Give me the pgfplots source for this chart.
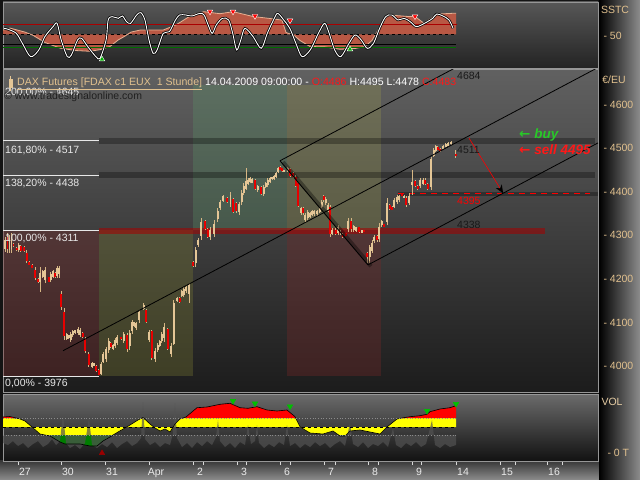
\documentclass[border=0pt]{standalone}
\usepackage{fontspec}
\setmainfont{Liberation Sans}
\newfontfamily\dv{DejaVu Sans}
\usepackage{pgfplots}
\pgfplotsset{compat=1.18}
\usepackage{pgfplotstable}
\usetikzlibrary{arrows.meta}
\definecolor{tanc}{RGB}{228,198,150}
\definecolor{wick}{RGB}{214,182,132}
\definecolor{candred}{RGB}{232,0,0}
\definecolor{txttan}{RGB}{224,192,142}
\definecolor{fibw}{RGB}{232,232,232}
\definecolor{buyg}{RGB}{40,200,40}
\definecolor{sellr}{RGB}{255,24,24}
\definecolor{framec}{RGB}{150,150,150}
\definecolor{areared}{RGB}{184,88,68}
\definecolor{areaedge}{RGB}{230,176,146}
\definecolor{volyel}{RGB}{255,255,0}
\definecolor{volred}{RGB}{255,0,0}
\definecolor{volgrn}{RGB}{0,125,0}
\definecolor{volgray}{RGB}{82,82,82}
\definecolor{bandred}{RGB}{120,40,40}
\definecolor{bandolive}{RGB}{120,120,50}
\definecolor{bandgreen}{RGB}{90,150,105}
\definecolor{bandyel}{RGB}{140,140,80}
\newcommand{\lbl}{\fontsize{10.5bp}{12bp}\selectfont}
\pgfplotstableread{
x o h l c d
5 4269 4297 4262 4290 0
7.5 4296 4305 4259 4268 1
9.5 4267 4301 4259 4293 0
11.5 4268 4305 4259 4296 0
13.5 4280 4282 4273 4275 1
16.7 4271 4272 4265 4266 1
18.7 4266 4282 4262 4278 0
20.7 4275 4278 4262 4265 1
24 4272 4275 4262 4265 1
26.7 4260 4266 4236 4242 1
29.3 4239 4240 4231 4232 1
32 4232 4233 4224 4225 1
35.3 4221 4227 4197 4203 1
38 4200 4202 4190 4192 1
40 4193 4227 4170 4213 0
42.7 4205 4220 4202 4217 0
45.3 4197 4227 4190 4220 0
48.7 4204 4205 4192 4193 1
50.7 4197 4216 4193 4212 0
53.3 4205 4220 4202 4217 0
55.3 4214 4216 4202 4204 1
57.3 4207 4229 4202 4224 0
59.3 4210 4229 4202 4226 0
61 4165 4172 4129 4136 1
64 4125 4133 4060 4068 1
66.7 4063 4076 4060 4073 0
68.7 4064 4071 4062 4071 0
70.7 4060 4078 4055 4073 0
72.7 4070 4083 4067 4080 0
75.3 4076 4083 4074 4083 0
78 4075 4090 4071 4086 0
80 4071 4087 4067 4083 0
82.7 4076 4078 4064 4066 1
85.3 4062 4067 4030 4035 1
88.7 4028 4032 3998 4003 1
92 3998 4009 3995 4006 0
94 4000 4007 3999 4007 0
96 4000 4002 3986 3989 1
98.7 3991 3992 3979 3980 1
101.3 3982 4009 3979 4005 0
103.3 4010 4032 4007 4028 0
106 4015 4044 4009 4038 0
108.7 4037 4064 4030 4058 0
110.7 4053 4055 4041 4043 1
113.3 4040 4051 4037 4048 0
115.3 4045 4064 4041 4060 0
117.3 4052 4071 4048 4066 0
121 4066 4067 4060 4061 1
123.7 4057 4079 4052 4074 0
127 4070 4076 4032 4038 1
129.7 4045 4083 4037 4075 0
132.3 4080 4106 4074 4100 0
134.3 4092 4102 4090 4100 0
136.3 4087 4102 4083 4098 0
139 4105 4129 4099 4123 0
143.7 4131 4145 4129 4141 0
146.3 4129 4131 4099 4101 1
149 4060 4083 4055 4078 0
151.7 4080 4083 4014 4018 1
155 4015 4041 4009 4035 0
157.7 4036 4053 4032 4049 0
159.7 4047 4060 4044 4057 0
161.7 4058 4078 4053 4073 0
164.3 4064 4099 4055 4090 0
167.7 4085 4087 4037 4040 1
171 4027 4053 4021 4047 0
173.7 4050 4151 4048 4145 0
177 4149 4158 4147 4156 0
179.7 4157 4158 4145 4147 1
181.7 4161 4174 4158 4171 0
183.7 4162 4181 4158 4176 0
186.3 4172 4186 4168 4182 0
189 4165 4190 4145 4185 0
193 4239 4240 4228 4229 1
195.7 4236 4274 4228 4266 0
198.3 4277 4294 4273 4290 0
201 4299 4340 4289 4330 0
205 4333 4335 4312 4314 1
207.7 4315 4317 4294 4296 1
210.3 4295 4319 4289 4313 0
214.3 4304 4335 4296 4327 0
217.7 4337 4363 4330 4356 0
220.3 4362 4381 4358 4377 0
223 4379 4392 4376 4389 0
227 4386 4388 4374 4376 1
230.5 4372 4400 4366 4393 0
233.3 4384 4386 4351 4353 1
236 4375 4377 4352 4355 1
239 4353 4377 4347 4371 0
241.7 4377 4404 4370 4397 0
243.7 4397 4420 4392 4414 0
246.3 4406 4454 4404 4425 0
248.3 4418 4431 4415 4428 0
250.3 4422 4434 4419 4431 0
252.3 4421 4431 4419 4429 0
255 4427 4429 4404 4406 1
257.7 4403 4415 4400 4412 0
261 4411 4413 4392 4394 1
263.7 4394 4415 4389 4410 0
265.7 4411 4423 4408 4420 0
267.7 4415 4431 4411 4427 0
270.3 4422 4434 4419 4431 0
272.3 4428 4434 4427 4434 0
274.3 4429 4438 4427 4436 0
276.3 4434 4446 4431 4443 0
278.3 4445 4457 4442 4454 0
280.3 4457 4458 4450 4450 1
282.3 4454 4455 4446 4447 1
284.3 4446 4450 4445 4450 0
287.7 4448 4457 4446 4455 0
290 4451 4454 4434 4437 1
293 4443 4446 4431 4433 1
295.7 4434 4438 4411 4414 1
298.3 4420 4423 4366 4368 1
301 4350 4366 4347 4362 0
303 4362 4366 4347 4350 1
305 4335 4351 4331 4347 0
307.7 4339 4358 4335 4354 0
310.3 4343 4354 4340 4351 0
312.3 4347 4358 4345 4355 0
314.3 4348 4358 4345 4355 0
317 4348 4359 4345 4356 0
319.7 4354 4366 4351 4363 0
321.7 4366 4381 4362 4377 0
323.7 4390 4392 4377 4380 1
325.7 4374 4388 4370 4384 0
328.3 4358 4373 4354 4369 0
330.3 4365 4370 4297 4302 1
332.3 4304 4316 4301 4313 0
335.7 4313 4316 4301 4304 1
338.3 4305 4324 4301 4320 0
340.5 4303 4312 4301 4310 0
342.5 4303 4305 4293 4295 1
345.7 4305 4306 4298 4298 1
348.3 4314 4339 4308 4333 0
351 4333 4339 4308 4314 1
353.7 4311 4324 4308 4321 0
356.3 4310 4320 4308 4318 0
359 4318 4320 4305 4308 1
361.7 4306 4312 4305 4311 0
364.3 4312 4313 4308 4308 1
367 4259 4262 4236 4249 1
369.7 4250 4278 4236 4272 0
372.3 4265 4289 4259 4283 0
374.3 4286 4301 4282 4297 0
377 4298 4301 4285 4288 1
379 4292 4328 4285 4320 0
381.7 4323 4335 4320 4332 0
384.3 4326 4327 4320 4320 1
387 4330 4385 4324 4375 0
389.7 4370 4372 4358 4360 1
392.3 4366 4367 4358 4358 1
394.3 4366 4385 4362 4380 0
397 4376 4392 4372 4388 0
399 4380 4392 4377 4389 0
401.7 4396 4397 4389 4389 1
404.3 4386 4392 4385 4391 0
406.3 4386 4389 4366 4369 1
409 4375 4396 4370 4391 0
412.3 4415 4450 4392 4423 0
415 4425 4427 4411 4413 1
417.7 4413 4415 4404 4406 1
420.3 4412 4431 4408 4427 0
423 4418 4431 4415 4428 0
425 4428 4431 4415 4418 1
427.7 4417 4419 4404 4406 1
431 4410 4480 4404 4474 0
433.7 4483 4500 4480 4496 0
435.7 4494 4507 4492 4504 0
437.7 4503 4504 4496 4496 1
440.3 4499 4500 4492 4494 1
443 4497 4507 4496 4505 0
445.7 4503 4511 4502 4509 0
448.3 4505 4513 4503 4511 0
451 4509 4517 4507 4515 0
455.7 4486 4495 4478 4483 1
}\candles
\begin{document}
\begin{tikzpicture}
\fill[black!92] (0,0) rectangle (640bp,480bp);
\shade[top color=black!78, bottom color=black!45] (0,0) rectangle (600bp,19bp);
\shade[left color=black, right color=black!45] (599bp,0) rectangle (640bp,480bp);

% ---------------- main price panel
\begin{axis}[
  at={(3bp,88bp)}, anchor=south west, scale only axis,
  width=595bp, height=323bp,
  xmin=3, xmax=598, ymin=3940.3, ymax=4681.6,
  axis background/.style={shade, top color=black!62, bottom color=black!89},
  axis line style={draw=framec, line width=0.6bp},
  xtick=\empty,
  ytick={4000,4100,4200,4300,4400,4500,4600},
  yticklabels={- 4000,- 4100,- 4200,- 4300,- 4400,- 4500,- 4600},
  ytick pos=right, yticklabel pos=right, major tick length=0pt,
  yticklabel style={anchor=west, xshift=2bp, text=txttan, font=\lbl},
]
% time zones
\addplot[fill=bandred, fill opacity=0.35, draw=none] coordinates {(3,3976) (99,3976) (99,4311) (3,4311)};
\addplot[fill=bandolive, fill opacity=0.35, draw=none] coordinates {(99,3976) (193,3976) (193,4311) (99,4311)};
\addplot[fill=bandgreen, fill opacity=0.3, draw=none] coordinates {(193,4311) (287,4311) (287,4645) (193,4645)};
\addplot[fill=bandyel, fill opacity=0.38, draw=none] coordinates {(287,4311) (381,4311) (381,4645) (287,4645)};
\addplot[fill=bandred, fill opacity=0.35, draw=none] coordinates {(287,3976) (381,3976) (381,4311) (287,4311)};
% horizontal bands
\addplot[fill=black, fill opacity=0.3, draw=none] coordinates {(99,4510) (595,4510) (595,4524) (99,4524)};
\addplot[fill=black, fill opacity=0.3, draw=none] coordinates {(99,4431) (595,4431) (595,4445) (99,4445)};
\addplot[fill=red!65!black, fill opacity=0.55, draw=none] coordinates {(99,4304) (545,4304) (545,4317) (99,4317)};
\addplot[fill=black, fill opacity=0.3, draw=none] coordinates {(398,4390) (598,4390) (598,4399) (398,4399)};
\addplot[red, dash pattern=on 6bp off 5bp, line width=1.2bp] coordinates {(398,4395) (590,4395)};
% fibonacci lines
\addplot[fibw, line width=0.9bp] coordinates {(3,4517) (99,4517)};
\addplot[fibw, line width=0.9bp] coordinates {(3,4438) (99,4438)};
\addplot[fibw, line width=0.9bp] coordinates {(3,4311) (99,4311)};
\addplot[fibw, line width=0.9bp] coordinates {(3,3976) (99,3976)};
% candles
\addplot[draw=none, mark=none, error bars/.cd, y dir=both, y explicit, error mark=none,
  error bar style={draw=wick, line width=0.7bp, solid}]
  table[x=x, y expr={(\thisrow{h}+\thisrow{l})/2}, y error expr={(\thisrow{h}-\thisrow{l})/2}] {\candles};
\addplot[draw=none, mark=none, restrict expr to domain={\thisrow{d}}{-0.5:0.5},
  error bars/.cd, y dir=both, y explicit, error mark=none,
  error bar style={draw=tanc, line width=1.9bp, solid}]
  table[x=x, y expr={(\thisrow{o}+\thisrow{c})/2}, y error expr={abs(\thisrow{c}-\thisrow{o})/2}] {\candles};
\addplot[draw=none, mark=none, restrict expr to domain={\thisrow{d}}{0.5:1.5},
  error bars/.cd, y dir=both, y explicit, error mark=none,
  error bar style={draw=candred, line width=1.9bp, solid}]
  table[x=x, y expr={(\thisrow{o}+\thisrow{c})/2}, y error expr={abs(\thisrow{c}-\thisrow{o})/2}] {\candles};
% channel lines
\addplot[black, opacity=0.35, line width=4bp] coordinates {(283,4468) (371,4229)};
\addplot[black, line width=0.8bp] coordinates {(280,4471) (598,4858)};
\addplot[black, line width=0.8bp] coordinates {(63,4035) (598,4685)};
\addplot[black, line width=0.8bp] coordinates {(368,4232) (598,4512)};
\addplot[black, line width=0.8bp] coordinates {(280,4471) (368,4232)};
\addplot[red, line width=0.6bp, -{Stealth[length=8bp,width=7bp,black]}] coordinates {(469,4523) (503,4397)};
% labels
\node[anchor=west, inner sep=0, text=black!90, font=\lbl] at (457,4665) {4684};
\node[anchor=west, inner sep=0, text=black!90, font=\lbl] at (457,4495) {4511};
\node[anchor=west, inner sep=0, text=red, font=\lbl] at (457,4380) {4395};
\node[anchor=west, inner sep=0, text=black!90, font=\lbl] at (457,4324) {4338};
\node[anchor=west, inner sep=0, text=buyg, font=\fontsize{13.5bp}{15bp}\selectfont\bfseries\itshape] at (519,4530) {{\dv ←} buy};
\node[anchor=west, inner sep=0, text=sellr, font=\fontsize{13.5bp}{15bp}\selectfont\bfseries\itshape] at (519,4496) {{\dv ←} sell 4495};
\node[anchor=west, inner sep=0, text=fibw, font=\lbl] at (5,4628) {200,00\% - 4645};
\node[anchor=west, inner sep=0, text=fibw, font=\lbl] at (5,4495) {161,80\% - 4517};
\node[anchor=west, inner sep=0, text=fibw, font=\lbl] at (5,4418) {138,20\% - 4438};
\node[anchor=west, inner sep=0, text=fibw, font=\lbl] at (5,4292) {100,00\% - 4311};
\node[anchor=west, inner sep=0, text=fibw, font=\lbl] at (5,3959) {0,00\% - 3976};
\node[anchor=west, inner sep=0, text=black!88, font=\lbl] at (4,4617) {© www.tradesignalonline.com};
\end{axis}

% ---------------- SSTC panel
\begin{axis}[
  at={(3bp,412bp)}, anchor=south west, scale only axis,
  width=595bp, height=66bp,
  xmin=3, xmax=598, ymin=-33.75, ymax=131.25,
  axis background/.style={shade, top color=black!66, bottom color=black!86},
  axis line style={draw=framec, line width=0.6bp},
  xtick=\empty, ytick={50}, yticklabels={- 50},
  ytick pos=right, yticklabel pos=right, major tick length=0pt,
  yticklabel style={anchor=west, xshift=2bp, yshift=-1.5bp, text=txttan, font=\lbl},
]
\addplot[fill=areared, draw=none] coordinates {(3,61) (10,66) (25,56) (33,48) (45,30) (60,16) (75,10) (90,8) (100,12) (110,20) (118,36) (125,46) (131,56) (140,61) (163,61) (176,74) (192,99) (204,107) (220,102) (233,107) (253,95) (270,90) (282,86) (286,55) (294,48) (300,35) (310,20) (325,19) (340,13) (355,15) (365,20) (372,35) (380,70) (388,99) (408,95) (415,95) (424,78) (437,101) (453,103) (456,103) (456,50) (3,50)};
\addplot[areaedge, line width=0.8bp] coordinates {(3,61) (10,66) (25,56) (33,48) (45,30) (60,16) (75,10) (90,8) (100,12) (110,20) (118,36) (125,46) (131,56) (140,61) (163,61) (176,74) (192,99) (204,107) (220,102) (233,107) (253,95) (270,90) (282,86) (286,55) (294,48) (300,35) (310,20) (325,19) (340,13) (355,15) (365,20) (372,35) (380,70) (388,99) (408,95) (415,95) (424,78) (437,101) (453,103) (456,103)};
\addplot[draw={rgb,255:red,170;green,0;blue,0}, line width=0.9bp] coordinates {(3,75.4) (457,75.4)};
\addplot[black, dashed, line width=0.8bp] coordinates {(3,50) (457,50)};
\addplot[black, line width=0.8bp] coordinates {(3,26.25) (456,26.25)};
\addplot[draw={rgb,255:red,0;green,110;blue,0}, line width=0.8bp] coordinates {(3,18.75) (456,18.75)};
\addplot[black, line width=2.4bp, smooth, tension=0.5] coordinates {(4.1,65.4) (8.2,62.9) (16.3,52.9) (22.4,27.9) (30.6,-5.4) (38.8,11.3) (44.9,44.6) (53.1,69.6) (57.1,77.9) (61.2,36.3) (67.3,-5.4) (71.4,-1.2) (77.6,36.3) (81.6,40.4) (87.8,19.6) (95.9,-5.4) (100,-9.6) (106.1,36.3) (108.2,86.3) (112.2,94.6) (118.4,90.4) (122.4,96.3) (126.5,82.1) (130.6,77.9) (136.7,98.8) (140.8,104.6) (144.9,86.3) (149,36.3) (153.1,2.9) (157.1,11.3) (163.3,52.9) (169.4,57.1) (175.5,86.3) (179.6,98.8) (185.7,98.8) (191.8,96.3) (200,102.9) (204.1,98.8) (208.2,73.8) (212.2,52.9) (216.3,73.8) (222.4,90.4) (228.6,86.3) (232.7,52.9) (236.7,11.3) (240.8,36.3) (244.9,65.4) (253.1,44.6) (261.2,15.4) (267.3,52.9) (273.5,86.3) (277.6,102.9) (283.7,86.3) (289.8,65.4) (295.9,27.9) (302,-5.4) (310.2,11.3) (318.4,52.9) (324.5,77.9) (328.6,57.1) (334.7,11.3) (340.8,-5.4) (349,27.9) (355.1,48.75) (361.2,36.3) (367.3,15.4) (373.5,27.9) (379.6,65.4) (385.7,94.6) (391.8,98.8) (398,86.3) (404.1,90.4) (410.2,82.1) (416.3,69.6) (424.5,77.9) (432.7,90.4) (436.7,101.25) (442.9,96.3) (449,86.3) (453.1,65.4)};
\addplot[white, line width=0.9bp, smooth, tension=0.5] coordinates {(4.1,65.4) (8.2,62.9) (16.3,52.9) (22.4,27.9) (30.6,-5.4) (38.8,11.3) (44.9,44.6) (53.1,69.6) (57.1,77.9) (61.2,36.3) (67.3,-5.4) (71.4,-1.2) (77.6,36.3) (81.6,40.4) (87.8,19.6) (95.9,-5.4) (100,-9.6) (106.1,36.3) (108.2,86.3) (112.2,94.6) (118.4,90.4) (122.4,96.3) (126.5,82.1) (130.6,77.9) (136.7,98.8) (140.8,104.6) (144.9,86.3) (149,36.3) (153.1,2.9) (157.1,11.3) (163.3,52.9) (169.4,57.1) (175.5,86.3) (179.6,98.8) (185.7,98.8) (191.8,96.3) (200,102.9) (204.1,98.8) (208.2,73.8) (212.2,52.9) (216.3,73.8) (222.4,90.4) (228.6,86.3) (232.7,52.9) (236.7,11.3) (240.8,36.3) (244.9,65.4) (253.1,44.6) (261.2,15.4) (267.3,52.9) (273.5,86.3) (277.6,102.9) (283.7,86.3) (289.8,65.4) (295.9,27.9) (302,-5.4) (310.2,11.3) (318.4,52.9) (324.5,77.9) (328.6,57.1) (334.7,11.3) (340.8,-5.4) (349,27.9) (355.1,48.75) (361.2,36.3) (367.3,15.4) (373.5,27.9) (379.6,65.4) (385.7,94.6) (391.8,98.8) (398,86.3) (404.1,90.4) (410.2,82.1) (416.3,69.6) (424.5,77.9) (432.7,90.4) (436.7,101.25) (442.9,96.3) (449,86.3) (453.1,65.4)};
\addplot[only marks, mark=triangle*, mark size=3.2bp, mark options={rotate=180, fill=red, draw=white, line width=0.4bp}] coordinates {(210,107) (233,107) (255,96) (290,85) (415,95)};
\addplot[only marks, mark=triangle*, mark size=3.2bp, mark options={fill=green!70!black, draw=white, line width=0.4bp}] coordinates {(102,-12) (350,13)};
\end{axis}

% ---------------- VOL panel
\begin{axis}[
  at={(3bp,19bp)}, anchor=south west, scale only axis,
  width=595bp, height=67bp,
  xmin=3, xmax=598, ymin=-8, ymax=59,
  axis background/.style={shade, top color=black!58, bottom color=black!93},
  axis line style={draw=framec, line width=0.6bp},
  ytick={0}, yticklabels={- 0 T},
  ytick pos=right, yticklabel pos=right,
  yticklabel style={anchor=west, xshift=2bp, text=txttan, font=\lbl},
  ytick style={draw=none},
  xtick={18,61,105,149,193,237,280,324,368,412,456,500,547},
  xticklabels={27,30,31,Apr,2,3,6,7,8,9,14,15,16},
  minor xtick={203,246.5,290,335,378,421.6,515,562},
  xtick pos=bottom, tick align=outside,
  major tick length=4bp, minor tick length=4bp,
  xtick style={draw=black!15, line width=0.6bp},
  minor tick style={draw=black!15, line width=0.6bp},
  xticklabel style={text=black!8, xshift=7bp, font=\lbl},
]
\addplot[fill=volyel, draw=none] coordinates {(3,35) (10,35) (20,34) (25,32) (32,26) (40,19) (45,18) (50,18) (60,18) (65,18) (80,18) (90,18) (97,18) (103,18) (110,18) (113,18) (118,21) (125,25) (130,28) (138,33) (143,35) (150,29) (155,25) (160,22) (165,24) (170,21) (175,29) (180,34) (184.8,35) (197,35) (230,35) (295.6,35) (300,26.3) (305,23) (310,20) (323,19) (333,22) (338.6,18) (346,18) (350,22) (360,23) (370,21) (380,19) (387,26) (397,34) (402.3,35) (456,35) (456,26) (3,26)};
\addplot[fill=volred, draw=none] coordinates {(3,35) (3,36) (10,36.5) (16,35)};
\addplot[fill=volred, draw=none] coordinates {(184.8,35) (186,36) (197,45.3) (207,46) (220,48.7) (230,49.7) (240,45.3) (248,44.7) (257,46.3) (267,43) (277,42) (287,43) (295,36.3) (295.6,35)};
\addplot[fill=volred, draw=none] coordinates {(402.3,35) (405,35.5) (410,36.3) (420,37.3) (427,38.7) (430,41.3) (440,44) (450,45.3) (456,47.3) (456,35)};
\addplot[fill=volgrn, draw=none] coordinates {(45,18) (50,17) (60,11) (65,9) (80,9) (90,7) (97,7) (103,12) (110,16) (113,18)};
\addplot[fill=volgrn, draw=none] coordinates {(338.6,18) (340,17) (345,17) (346,18)};
\addplot[fill=volgray, fill opacity=0.7, draw=none] coordinates {(3,10) (8,8) (13,12) (18,7) (23,10) (28,5) (33,9) (38,12) (43,6) (48,9) (52,14) (56,8) (60,12) (63,40) (66,10) (70,5) (75,8) (80,4) (85,10) (89,35) (92,8) (97,5) (102,9) (107,6) (112,11) (117,5) (122,9) (127,12) (132,7) (137,10) (141,15) (143,51) (145,14) (150,8) (155,11) (160,6) (165,10) (170,8) (173,20) (175,50) (177,15) (182,6) (187,10) (192,5) (197,11) (202,7) (207,12) (212,8) (216,16) (218,33) (220,12) (225,6) (230,10) (235,5) (240,11) (245,8) (248,28) (251,9) (255,12) (257,28) (259,10) (264,5) (269,9) (274,6) (279,11) (284,8) (287,28) (290,7) (295,10) (300,5) (305,9) (310,6) (315,11) (320,7) (325,10) (330,5) (335,9) (340,12) (345,7) (350,30) (353,9) (358,6) (363,11) (368,5) (373,9) (378,7) (383,11) (388,6) (393,25) (396,8) (401,5) (406,10) (411,7) (416,11) (421,6) (426,9) (432,33) (435,8) (440,5) (445,9) (450,6) (456,8) (456,18) (3,18)};
\addplot[black, line width=0.6bp] coordinates {(3,36) (10,36.5) (20,34) (25,32) (32,26) (40,19) (50,17) (60,11) (65,9) (80,9) (90,7) (97,7) (103,12) (110,16) (113,18) (118,21) (125,25) (130,28) (138,33) (143,35.5) (150,29) (155,25) (160,22) (165,24) (170,21) (175,29) (180,34) (186,36) (197,45.3) (207,46) (220,48.7) (230,49.7) (240,45.3) (248,44.7) (257,46.3) (267,43) (277,42) (287,43) (295,36.3) (300,26.3) (305,23) (310,20) (323,19) (333,22) (340,17) (345,17) (350,22) (360,23) (370,21) (380,19) (387,26) (397,34) (405,35.5) (410,36.3) (420,37.3) (427,38.7) (430,41.3) (440,44) (450,45.3) (456,47.3)};
\addplot[black, dashed, line width=0.8bp] coordinates {(3,26) (456,26)};
\addplot[black!45, dotted, line width=0.7bp] coordinates {(3,35) (456,35)};
\addplot[black!45, dotted, line width=0.7bp] coordinates {(3,18) (456,18)};
\addplot[only marks, mark=triangle*, mark size=3.2bp, mark options={rotate=180, fill=green!75!black, draw=green!75!black}] coordinates {(233,52) (255,49.5) (290,46.5) (427,42) (456,49)};
\addplot[only marks, mark=triangle*, mark size=3.2bp, mark options={fill=red!60!black, draw=red!60!black}] coordinates {(102,0)};
\end{axis}

% header and side labels
\fill[tanc] (9bp,392bp) rectangle (12.5bp,401bp);
\draw[tanc, line width=0.6bp] (10.7bp,389bp) -- (10.7bp,404bp);
\node[anchor=base west, inner sep=0, font=\fontsize{10.6bp}{12bp}\selectfont] at (17bp,394.5bp)
  {\textcolor{txttan}{\underline{DAX Futures [FDAX c1 EUX\ \ 1 Stunde]}} \textcolor{white}{14.04.2009 09:00:00 -} \textcolor{sellr}{O:4486} \textcolor{white}{H:4495 L:4478} \textcolor{sellr}{C:4483}};
\node[text=txttan, font=\lbl, inner sep=0] at (614bp,400bp) {€/EU};
\node[text=txttan, font=\lbl, inner sep=0] at (615bp,470bp) {SSTC};
\node[text=txttan!80!white, font=\lbl, inner sep=0] at (612bp,78bp) {VOL};
\pgfresetboundingbox
\path[use as bounding box] (0,0) rectangle (640bp,480bp);
\end{tikzpicture}
\end{document}
